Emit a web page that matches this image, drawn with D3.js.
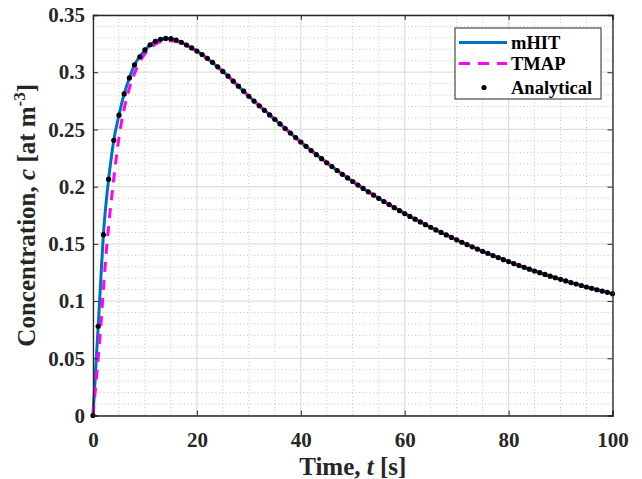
<!DOCTYPE html>
<html>
<head>
<meta charset="utf-8">
<title>Concentration vs time</title>
<script src="https://d3js.org/d3.v7.min.js"></script>
<style>
  body { margin: 0; background: #fff; }
  svg { display: block; font-family: "Liberation Serif", "Times New Roman", serif; font-weight: bold; }
</style>
</head>
<body>
<script>
// analytical points, one per second
var analyticalT = [0,1,2,3,4,5,6,7,8,9,10,11,12,13,14,15,16,17,18,19,20,
  21,22,23,24,25,26,27,28,29,30,31,32,33,34,35,36,37,38,39,40,
  41,42,43,44,45,46,47,48,49,50,51,52,53,54,55,56,57,58,59,60,
  61,62,63,64,65,66,67,68,69,70,71,72,73,74,75,76,77,78,79,80,
  81,82,83,84,85,86,87,88,89,90,91,92,93,94,95,96,97,98,99,100];
var analyticalC = [0,0.078,0.158,0.2065,0.2405,0.2625,0.281,0.295,0.3065,0.3135,0.3195,
  0.324,0.327,0.3288,0.3295,0.3293,0.3281,0.3262,0.3238,0.3212,0.3185,
  0.3155,0.3122,0.3086,0.3047,0.3007,0.2965,0.2922,0.2878,0.2834,0.2790,
  0.2748,0.2707,0.2667,0.2627,0.2588,0.2548,0.2508,0.2468,0.2429,0.2390,
  0.2352,0.2315,0.2279,0.2244,0.2209,0.2175,0.2141,0.2108,0.2076,0.2045,
  0.2014,0.1984,0.1955,0.1926,0.1898,0.1870,0.1843,0.1816,0.1790,0.1765,
  0.1740,0.1716,0.1692,0.1668,0.1645,0.1622,0.1600,0.1578,0.1556,0.1535,
  0.1514,0.1494,0.1474,0.1454,0.1435,0.1416,0.1398,0.1380,0.1362,0.1345,
  0.1328,0.1311,0.1295,0.1279,0.1263,0.1248,0.1233,0.1218,0.1204,0.1190,
  0.1176,0.1162,0.1149,0.1136,0.1123,0.1111,0.1099,0.1087,0.1076,0.1065];

var mhitT = [0,0.5,1,1.5,2,2.5,3,3.5,4,5,6,7,8,9,10,12,14,16,18,20,
  25,30,35,40,45,50,55,60,65,70,75,80,85,90,95,100];
var mhitC = [0,0.039,0.078,0.119,0.158,0.185,0.2065,0.2245,0.2405,0.2625,0.281,0.295,0.3065,0.3135,0.3195,
  0.327,0.3295,0.3281,0.3238,0.3185,0.3007,0.2790,0.2588,0.2390,0.2209,0.2045,0.1898,0.1765,
  0.1645,0.1535,0.1435,0.1345,0.1263,0.1190,0.1123,0.1065];

var tmapT = [0,0.5,1,1.5,2,2.5,3,3.5,4,4.5,5,6,7,8,9,10,11,12,13,14,15,16,17,18,19,20,
  25,30,35,40,45,50,55,60,65,70,75,80,85,90,95,100];
var tmapC = [0,0.025,0.05,0.078,0.11,0.14,0.165,0.187,0.207,0.226,0.243,0.268,0.286,0.299,0.309,0.316,
  0.321,0.3245,0.3265,0.3275,0.3276,0.3268,0.3254,0.3234,0.3210,0.3183,
  0.3006,0.2790,0.2588,0.2390,0.2209,0.2045,0.1898,0.1765,0.1645,0.1535,0.1435,0.1345,0.1263,0.1190,0.1123,0.1065];

var xTicks = [0,20,40,60,80,100];
var yTicks = [0,0.05,0.1,0.15,0.2,0.25,0.3,0.35];
var yTickLabels = ["0","0.05","0.1","0.15","0.2","0.25","0.3","0.35"];
var xMinor = [5,10,15,25,30,35,45,50,55,65,70,75,85,90,95];
var yMinor = [0.01,0.02,0.03,0.04,0.06,0.07,0.08,0.09,0.11,0.12,0.13,0.14,0.16,0.17,0.18,0.19,
  0.21,0.22,0.23,0.24,0.26,0.27,0.28,0.29,0.31,0.32,0.33,0.34];

var width = 642, height = 479;
var plotL = 93, plotT = 15, plotR = 612.5, plotB = 415.5;

var svg = d3.select("body").append("svg")
  .attr("width", width)
  .attr("height", height);

var x = d3.scaleLinear().domain([0, 100]).range([plotL, plotR]);
var y = d3.scaleLinear().domain([0, 0.35]).range([plotB, plotT]);

// minor grid (dotted)
svg.append("g").selectAll("line").data(xMinor).enter().append("line")
  .attr("x1", function(d) { return x(d); }).attr("x2", function(d) { return x(d); })
  .attr("y1", plotT).attr("y2", plotB)
  .attr("stroke", "#c4c4c4").attr("stroke-width", 1).attr("stroke-dasharray", "1,2.5");
svg.append("g").selectAll("line").data(yMinor).enter().append("line")
  .attr("y1", function(d) { return y(d); }).attr("y2", function(d) { return y(d); })
  .attr("x1", plotL).attr("x2", plotR)
  .attr("stroke", "#c4c4c4").attr("stroke-width", 1).attr("stroke-dasharray", "1,2.5");

// major grid
svg.append("g").selectAll("line").data(xTicks).enter().append("line")
  .attr("x1", function(d) { return x(d); }).attr("x2", function(d) { return x(d); })
  .attr("y1", plotT).attr("y2", plotB)
  .attr("stroke", "#dedede").attr("stroke-width", 1.2);
svg.append("g").selectAll("line").data(yTicks).enter().append("line")
  .attr("y1", function(d) { return y(d); }).attr("y2", function(d) { return y(d); })
  .attr("x1", plotL).attr("x2", plotR)
  .attr("stroke", "#dedede").attr("stroke-width", 1.2);

// series
var mhitData = mhitT.map(function(t, i) { return [t, mhitC[i]]; });
var tmapData = tmapT.map(function(t, i) { return [t, tmapC[i]]; });
var anaData = analyticalT.map(function(t, i) { return [t, analyticalC[i]]; });

var line = d3.line()
  .x(function(d) { return x(d[0]); })
  .y(function(d) { return y(d[1]); })
  .curve(d3.curveMonotoneX);

svg.append("path").datum(mhitData)
  .attr("d", line).attr("fill", "none")
  .attr("stroke", "#0072BD").attr("stroke-width", 3);

svg.append("path").datum(tmapData)
  .attr("d", line).attr("fill", "none")
  .attr("stroke", "#FF00FF").attr("stroke-width", 3)
  .attr("stroke-dasharray", "10,8");

svg.append("g").selectAll("circle").data(anaData).enter().append("circle")
  .attr("cx", function(d) { return x(d[0]); })
  .attr("cy", function(d) { return y(d[1]); })
  .attr("r", 2.6).attr("fill", "#000");

// axes: ticks point inwards on all four sides
var axisColor = "#262626";
svg.append("g").attr("transform", "translate(0," + plotB + ")")
  .call(d3.axisBottom(x).tickValues(xTicks).tickSize(-5).tickPadding(17));
svg.append("g").attr("transform", "translate(0," + plotT + ")")
  .call(d3.axisTop(x).tickValues(xTicks).tickSize(-5).tickFormat(""));
svg.append("g").attr("transform", "translate(" + plotL + ",0)")
  .call(d3.axisLeft(y).tickValues(yTicks).tickSize(-5).tickPadding(8)
    .tickFormat(function(d, i) { return yTickLabels[i]; }));
svg.append("g").attr("transform", "translate(" + plotR + ",0)")
  .call(d3.axisRight(y).tickValues(yTicks).tickSize(-5).tickFormat(""));

svg.selectAll(".domain").attr("stroke", axisColor).attr("stroke-width", 1.3);
svg.selectAll(".tick line").attr("stroke", axisColor).attr("stroke-width", 1);
svg.selectAll(".tick text")
  .attr("fill", "#262626")
  .style("font-family", "'Liberation Serif', 'Times New Roman', serif")
  .style("font-weight", "bold")
  .style("font-size", "21px");

// axis labels
var xl = svg.append("text")
  .attr("x", (plotL + plotR) / 2).attr("y", 475)
  .attr("text-anchor", "middle")
  .style("font-size", "25px").attr("fill", "#262626");
xl.append("tspan").text("Time, ");
xl.append("tspan").style("font-style", "italic").text("t");
xl.append("tspan").text(" [s]");

var yl = svg.append("text")
  .attr("transform", "translate(35," + ((plotT + plotB) / 2) + ") rotate(-90)")
  .attr("text-anchor", "middle")
  .style("font-size", "25px").attr("fill", "#262626");
yl.append("tspan").text("Concentration, ");
yl.append("tspan").style("font-style", "italic").text("c");
yl.append("tspan").text(" [at m");
yl.append("tspan").attr("dy", -10).style("font-size", "17px").text("-3");
yl.append("tspan").attr("dy", 10).text("]");

// legend
var legX = 455, legY = 28, legW = 146, legH = 71;
var lg = svg.append("g");
lg.append("rect")
  .attr("x", legX).attr("y", legY).attr("width", legW).attr("height", legH)
  .attr("fill", "#fff").attr("stroke", axisColor).attr("stroke-width", 1);

var legNames = ["mHIT", "TMAP", "Analytical"];
var legRows = [42.5, 63.5, 87.5];

lg.append("line").attr("x1", 459).attr("x2", 507).attr("y1", legRows[0]).attr("y2", legRows[0])
  .attr("stroke", "#0072BD").attr("stroke-width", 3);
lg.append("line").attr("x1", 459).attr("x2", 507).attr("y1", legRows[1]).attr("y2", legRows[1])
  .attr("stroke", "#FF00FF").attr("stroke-width", 3).attr("stroke-dasharray", "11,8");
lg.append("circle").attr("cx", 484).attr("cy", legRows[2]).attr("r", 2.6).attr("fill", "#000");

lg.selectAll("text.leg").data(legNames).enter().append("text")
  .attr("class", "leg")
  .attr("x", 511)
  .attr("y", function(d, i) { return legRows[i] + 6.5; })
  .style("font-size", "18.5px").attr("fill", "#000")
  .text(function(d) { return d; });
</script>
</body>
</html>
